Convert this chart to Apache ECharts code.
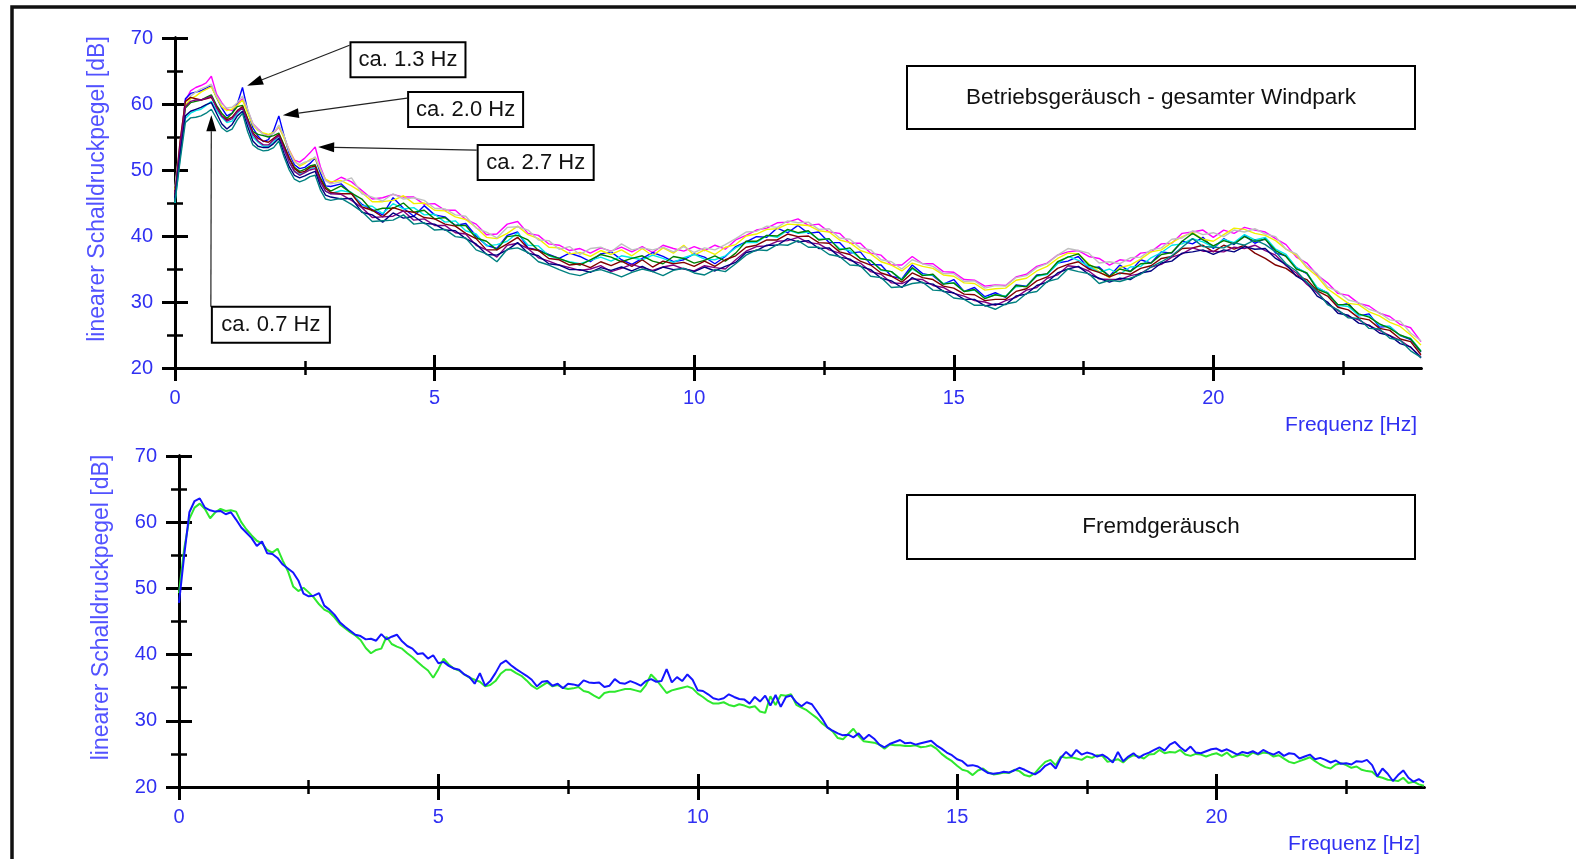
<!DOCTYPE html>
<html>
<head>
<meta charset="utf-8">
<title>Schalldruckpegel-Spektren Windpark</title>
<script src="https://cdn.jsdelivr.net/npm/echarts@6/dist/echarts.min.js"></script>
<style>
  html, body { margin: 0; padding: 0; background: #ffffff; }
  #chart { width: 1576px; height: 859px; }
</style>
</head>
<body>
<div id="chart"></div>
<script>
// ---------- data ----------
// Frequency grid of the operating-noise spectra [Hz]
const freqTop = [
  0, 0.1, 0.2, 0.3, 0.4, 0.5, 0.6, 0.7, 0.8, 0.9, 1.0, 1.1, 1.2, 1.3, 1.4, 1.5, 1.6, 1.7, 1.8, 1.9,
  2.0, 2.1, 2.2, 2.3, 2.4, 2.5, 2.6, 2.7, 2.8, 2.9, 3.0,
  3.2, 3.4, 3.6, 3.8, 4.0, 4.2, 4.4, 4.6, 4.8, 5.0,
  5.2, 5.4, 5.6, 5.8, 6.0, 6.2, 6.4, 6.6, 6.8, 7.0,
  7.2, 7.4, 7.6, 7.8, 8.0, 8.2, 8.4, 8.6, 8.8, 9.0,
  9.2, 9.4, 9.6, 9.8, 10.0, 10.2, 10.4, 10.6, 10.8, 11.0,
  11.2, 11.4, 11.6, 11.8, 12.0, 12.2, 12.4, 12.6, 12.8, 13.0,
  13.2, 13.4, 13.6, 13.8, 14.0, 14.2, 14.4, 14.6, 14.8, 15.0,
  15.2, 15.4, 15.6, 15.8, 16.0, 16.2, 16.4, 16.6, 16.8, 17.0,
  17.2, 17.4, 17.6, 17.8, 18.0, 18.2, 18.4, 18.6, 18.8, 19.0,
  19.2, 19.4, 19.6, 19.8, 20.0, 20.2, 20.4, 20.6, 20.8, 21.0,
  21.2, 21.4, 21.6, 21.8, 22.0, 22.2, 22.4, 22.6, 22.8, 23.0,
  23.2, 23.4, 23.6, 23.8, 24.0
];

// Operating noise, whole wind farm: one spectrum per measurement interval [dB]
const levelRun1 = [
  46.5, 54, 60.5, 62, 62.5, 62.8, 63.2, 64.2, 61.5, 60.2, 59.2, 59, 60, 60.8, 59, 57, 56.2, 55.5, 55.3, 55.6,
  56.5, 55, 53, 51.5, 51.2, 51.8, 52.6, 53.5, 50.5, 48.5, 48,
  48.9, 48.2, 46.9, 45.6, 45.8, 46.3, 45.9, 45.9, 44.8, 44.9,
  43.9, 43.9, 42.5, 41.8, 40.2, 40.3, 41.8, 42.2, 40.4, 40.1,
  38.8, 38.6, 37.8, 38.1, 37.4, 38.2, 37.7, 38.3, 37.6, 38.4,
  37.5, 38.6, 38.1, 37.7, 38.4, 37.8, 38.6, 38.0, 39.4, 40.1,
  40.9, 41.2, 42.0, 42.1, 42.6, 41.6, 41.8, 40.6, 40.4, 38.9,
  38.9, 37.4, 37.1, 35.6, 35.6, 36.9, 35.8, 35.8, 34.6, 34.5,
  33.4, 33.3, 32.4, 32.6, 32.5, 33.8, 34.2, 35.4, 35.9, 37.1,
  37.6, 37.8, 36.9, 36.6, 35.6, 36.4, 36.2, 37.4, 37.6, 38.8,
  38.9, 40.4, 40.6, 40.9, 39.8, 40.9, 40.4, 41.3, 40.9, 40.6,
  39.6, 38.7, 36.8, 35.9, 34.1, 32.9, 31.3, 31.0, 29.8, 29.4,
  28.3, 27.8, 26.6, 26.1, 24.0
];
const levelRun2 = [
  45.5, 53, 60.8, 61.6, 61.8, 62, 62.4, 62.8, 61, 59.4, 58.2, 58.6, 60, 62.5, 59, 56.4, 55.1, 54.3, 54.6, 56,
  58.2, 55.2, 52.5, 50.8, 50.2, 50.4, 51, 51.8, 49.6, 47.6, 47.5,
  47.9, 46.4, 44.8, 44.0, 43.2, 45.8, 44.2, 43.0, 44.6, 43.2,
  42.9, 41.6, 41.9, 40.0, 38.6, 38.1, 40.1, 40.6, 38.2, 37.9,
  37.2, 36.6, 37.4, 36.9, 36.1, 37.3, 37.6, 36.4, 35.7, 36.6,
  37.5, 36.9, 36.1, 36.4, 37.3, 36.8, 35.8, 36.9, 38.4, 39.1,
  39.9, 39.8, 41.2, 40.5, 41.6, 40.4, 40.6, 39.0, 39.0, 37.4,
  37.6, 35.7, 35.6, 33.9, 33.5, 35.6, 34.3, 34.0, 32.7, 33.4,
  31.6, 32.2, 30.8, 31.4, 30.7, 32.6, 32.4, 34.1, 34.2, 35.9,
  36.2, 36.9, 35.1, 35.3, 33.9, 35.6, 34.6, 36.4, 35.9, 37.6,
  37.4, 39.2, 38.8, 39.8, 38.1, 39.6, 38.7, 40.1, 38.9, 39.6,
  37.4, 37.0, 35.2, 34.3, 32.1, 31.4, 29.4, 29.8, 27.9, 28.2,
  26.2, 26.3, 24.9, 24.3, 22.4
];
const levelRun3 = [
  47, 54, 59.8, 60.8, 61.2, 61.8, 62.2, 62.6, 61, 59.6, 59, 59.2, 59.8, 60.6, 58.6, 56.8, 56, 55.6, 55.4, 55.7,
  56.6, 54.8, 53, 51.4, 50.6, 51, 51.6, 51.8, 50, 48.6, 48.2,
  48.4, 47.6, 46.6, 45.2, 45.2, 45.4, 46.1, 44.9, 45.0, 43.9,
  43.8, 42.9, 42.5, 41.3, 39.8, 39.6, 40.4, 41.5, 40.2, 39.6,
  38.3, 38.2, 37.3, 37.5, 36.9, 37.8, 37.2, 37.9, 37.0, 38.1,
  37.0, 38.2, 37.4, 38.6, 37.1, 37.9, 37.2, 38.3, 38.7, 40.0,
  40.3, 41.0, 41.1, 41.8, 41.7, 41.6, 40.8, 40.6, 39.4, 39.0,
  37.8, 37.3, 36.1, 35.6, 34.7, 35.9, 35.4, 35.1, 34.1, 33.9,
  32.9, 32.8, 31.8, 32.0, 32.1, 33.3, 33.6, 34.7, 35.4, 36.6,
  37.4, 37.3, 35.8, 34.6, 33.7, 35.2, 35.6, 36.5, 37.6, 37.9,
  39.0, 39.9, 40.5, 39.5, 39.2, 40.2, 41.2, 41.0, 40.4, 40.1,
  39.3, 38.0, 37.1, 35.2, 33.9, 32.0, 30.9, 29.8, 29.6, 28.5,
  27.9, 26.9, 26.3, 25.0, 23.5
];
const levelRun4 = [
  47.5, 54.5, 60.2, 61.2, 61.8, 62.3, 62.6, 63.0, 61.2, 60, 59.4, 59.5, 60.2, 61.2, 59.2, 57, 56.1, 55.4, 55.1, 55.6,
  56.8, 55.2, 52.8, 51.2, 50.8, 51.2, 51.4, 52, 50.2, 48.4, 47.9,
  48.2, 48.8, 46.4, 45.9, 45.3, 46.4, 45.6, 45.8, 45.4, 44.2,
  44.1, 43.2, 43.0, 41.2, 40.6, 39.7, 41.3, 41.4, 40.9, 39.4,
  39.3, 38.0, 38.4, 37.2, 38.1, 38.3, 37.6, 38.8, 37.9, 38.2,
  37.9, 38.3, 37.6, 38.4, 37.5, 38.2, 37.9, 38.7, 39.6, 40.6,
  40.7, 41.5, 41.3, 42.3, 42.0, 42.1, 41.0, 41.1, 39.7, 39.5,
  38.2, 37.9, 36.4, 36.1, 35.0, 36.4, 35.8, 35.4, 34.3, 34.3,
  33.1, 33.2, 32.1, 32.5, 32.4, 33.7, 34.0, 35.2, 35.8, 37.1,
  38.1, 37.8, 37.4, 35.9, 36.1, 35.8, 36.7, 36.8, 37.9, 38.2,
  39.5, 39.7, 40.8, 40.2, 40.5, 39.9, 40.9, 40.6, 41.1, 40.3,
  39.9, 38.0, 37.3, 35.4, 34.3, 32.3, 31.6, 30.3, 29.9, 28.9,
  28.4, 27.3, 27.1, 25.3, 24.1
];
const levelRun5 = [
  45, 52, 57.8, 58.6, 59, 59.2, 59.8, 60.4, 59, 58, 57.2, 57.4, 58.6, 59.4, 57.2, 55, 54.2, 53.6, 53.6, 54.2,
  55.2, 53.2, 51.2, 49.8, 49.4, 49.6, 50.2, 50.4, 48.2, 46.8, 46.4,
  46.9, 46.6, 44.6, 44.5, 43.4, 44.9, 44.1, 44.3, 43.2, 43.3,
  42.1, 42.3, 40.8, 40.3, 38.5, 38.7, 39.2, 40.5, 38.6, 38.5,
  37.0, 36.5, 36.1, 35.8, 36.3, 36.8, 36.2, 37.0, 36.7, 36.4,
  37.1, 36.6, 36.0, 36.7, 37.2, 36.5, 36.4, 37.0, 38.2, 39.0,
  39.0, 40.1, 39.8, 40.9, 40.4, 40.6, 39.5, 39.5, 38.1, 37.8,
  36.6, 36.3, 34.8, 34.6, 33.4, 35.0, 34.1, 34.1, 32.8, 32.9,
  31.6, 31.8, 30.6, 31.1, 30.9, 32.3, 32.4, 33.9, 34.2, 35.8,
  36.9, 36.3, 35.4, 34.5, 35.0, 34.2, 35.3, 35.4, 36.7, 37.5,
  38.6, 38.8, 39.6, 39.1, 38.3, 39.5, 39.0, 40.2, 39.4, 39.8,
  38.0, 37.2, 35.2, 34.4, 32.2, 31.4, 29.5, 29.3, 28.0, 27.9,
  26.5, 26.3, 24.9, 24.5, 22.6
];
const levelRun6 = [
  46, 53.4, 59.4, 60.2, 60.4, 60.6, 61, 61.4, 59.8, 58.6, 57.8, 58.6, 59.6, 59.8, 57.8, 55.8, 55.4, 55.2, 55.0, 55.2,
  55.6, 53.8, 51.8, 50.4, 49.8, 50.1, 50.6, 50.8, 48.8, 47.4, 46.8,
  47.6, 46.5, 45.6, 43.8, 44.2, 44.2, 45.0, 43.6, 43.9, 42.6,
  42.8, 41.6, 41.6, 39.7, 39.2, 37.9, 39.9, 40.1, 39.4, 37.8,
  37.1, 36.6, 36.0, 35.6, 36.4, 37.2, 36.8, 36.1, 36.6, 37.0,
  36.2, 35.8, 36.9, 36.6, 35.9, 36.3, 37.0, 36.2, 37.4, 39.2,
  39.2, 40.1, 40.0, 41.0, 40.5, 40.8, 39.4, 39.6, 37.9, 38.2,
  36.6, 36.3, 34.9, 34.6, 33.3, 35.2, 34.0, 34.2, 32.7, 32.9,
  31.6, 31.9, 30.5, 31.1, 30.8, 32.5, 32.3, 34.0, 34.3, 36.1,
  36.8, 37.3, 35.6, 35.1, 33.9, 35.0, 34.6, 35.8, 35.9, 37.2,
  37.5, 39.2, 40.4, 39.4, 38.5, 39.3, 38.8, 39.9, 39.2, 39.5,
  37.8, 36.9, 35.0, 34.4, 31.9, 31.3, 29.6, 29.6, 28.2, 27.7,
  26.7, 26.0, 25.0, 24.4, 22.5
];
const levelRun7 = [
  46.2, 54.5, 60.4, 61, 60.8, 60.6, 60.8, 61.0, 59.6, 58.2, 57.6, 58.0, 59.0, 59.6, 57.6, 55.6, 54.8, 54.4, 54.2, 54.8,
  55.4, 53.6, 51.8, 50.2, 49.6, 49.8, 50.4, 50.6, 48.6, 47.2, 46.6,
  46.4, 46.4, 44.4, 43.9, 42.9, 44.3, 43.8, 43.6, 42.8, 42.6,
  41.8, 41.5, 40.4, 39.6, 37.9, 37.9, 38.8, 39.8, 38.1, 37.8,
  36.6, 36.4, 35.6, 35.8, 35.2, 36.1, 35.5, 36.2, 35.4, 36.4,
  35.3, 36.2, 35.8, 36.0, 35.4, 36.2, 35.4, 36.4, 37.0, 38.3,
  38.6, 39.4, 39.4, 40.3, 39.9, 40.0, 39.0, 38.9, 37.6, 37.2,
  36.2, 35.6, 34.4, 33.9, 33.0, 34.4, 33.7, 33.4, 32.4, 32.1,
  31.2, 31.1, 30.2, 30.4, 30.4, 31.6, 32.0, 33.2, 33.8, 35.1,
  35.7, 36.1, 35.0, 34.5, 33.8, 34.4, 34.2, 35.1, 35.5, 36.6,
  36.9, 38.1, 38.2, 38.6, 37.6, 38.6, 38.0, 38.6, 37.4, 36.6,
  35.6, 35.1, 34.0, 33.4, 31.7, 30.9, 29.2, 28.8, 27.6, 27.3,
  26.0, 25.7, 24.4, 24.0, 22.0
];
const levelRun8 = [
  46, 53.8, 59.6, 60.4, 60.6, 60.6, 60.9, 61.2, 59.4, 58.2, 57.4, 57.8, 58.8, 59.4, 57.4, 55.4, 54.4, 53.8, 53.8, 54.6,
  55.2, 53.2, 51.2, 49.8, 49.2, 49.6, 50.0, 50.2, 48.2, 46.8, 46.4,
  46.3, 45.4, 44.3, 42.8, 42.9, 43.0, 43.8, 42.4, 42.6, 41.6,
  41.6, 40.5, 40.3, 38.6, 37.9, 36.8, 38.6, 38.9, 38.1, 36.7,
  36.2, 35.6, 35.2, 34.8, 35.0, 35.5, 34.6, 35.1, 35.7, 35.2,
  34.8, 35.3, 35.6, 35.0, 34.7, 35.5, 35.2, 35.0, 36.4, 37.7,
  38.4, 38.5, 39.2, 39.3, 39.8, 39.0, 38.8, 37.9, 37.4, 36.3,
  35.9, 34.6, 34.2, 32.9, 32.8, 33.5, 33.4, 32.5, 32.2, 31.3,
  30.9, 30.2, 30.0, 29.5, 30.2, 30.7, 31.8, 32.2, 33.6, 34.1,
  35.5, 35.3, 34.7, 33.5, 33.4, 33.4, 34.0, 34.3, 35.3, 35.7,
  36.8, 37.3, 38.2, 37.7, 37.7, 37.6, 38.3, 38.1, 38.6, 37.8,
  37.1, 35.5, 34.4, 32.7, 31.4, 29.8, 28.7, 27.8, 27.3, 26.4,
  25.7, 24.9, 24.2, 23.1, 21.7
];
const levelRun9 = [
  45.8, 52.4, 58.2, 58.9, 59.2, 59.5, 59.9, 60.2, 58.6, 57.0, 56.2, 56.9, 58.2, 58.9, 56.6, 54.4, 53.6, 53.4, 53.4, 54.0,
  54.8, 52.5, 50.5, 49.2, 48.8, 49.1, 49.5, 49.8, 47.6, 46.2, 45.9,
  45.6, 45.7, 43.6, 43.2, 42.1, 43.5, 42.7, 43.0, 41.9, 41.8,
  40.9, 40.8, 39.6, 38.8, 37.2, 37.1, 37.9, 39.0, 37.4, 37.0,
  35.8, 35.6, 34.9, 34.9, 34.5, 35.2, 34.8, 35.3, 34.7, 35.4,
  34.6, 35.3, 34.9, 35.1, 34.6, 35.3, 34.7, 35.4, 36.0, 37.5,
  37.8, 38.6, 38.6, 39.6, 39.1, 39.3, 38.1, 38.2, 36.8, 36.5,
  35.4, 34.9, 33.6, 33.2, 32.2, 33.7, 32.9, 32.7, 31.6, 31.4,
  30.4, 30.4, 29.4, 29.7, 29.6, 30.9, 31.2, 32.5, 33.0, 34.4,
  35.0, 35.4, 34.2, 33.6, 33.0, 33.6, 33.4, 34.4, 34.7, 35.9,
  36.2, 37.4, 37.6, 37.9, 37.2, 37.9, 37.6, 38.4, 38.0, 38.1,
  36.6, 35.7, 33.9, 33.0, 30.9, 30.0, 28.3, 28.0, 26.8, 26.5,
  25.3, 24.9, 23.7, 23.2, 21.5
];
const levelRun10 = [
  45.2, 51.5, 57.2, 57.9, 58.0, 58.2, 58.6, 59.2, 57.8, 56.4, 55.8, 56.2, 57.6, 58.6, 55.8, 53.8, 53.2, 52.9, 53.0, 53.4,
  54.4, 52.0, 50.0, 48.6, 48.2, 48.5, 49.0, 49.2, 47.0, 45.6, 45.4,
  45.7, 44.8, 43.7, 42.2, 42.3, 42.4, 43.2, 41.8, 42.0, 40.9,
  41.0, 39.9, 39.7, 37.9, 37.3, 36.1, 38.0, 38.2, 37.5, 36.1,
  35.6, 34.9, 34.3, 34.0, 34.6, 34.9, 34.4, 33.8, 34.5, 35.0,
  34.6, 34.0, 34.8, 35.1, 34.4, 34.1, 34.9, 34.6, 35.8, 37.1,
  37.9, 37.8, 38.7, 38.6, 39.3, 38.3, 38.3, 37.2, 36.9, 35.6,
  35.5, 33.9, 33.7, 32.2, 32.3, 32.8, 33.0, 31.8, 31.7, 30.6,
  30.4, 29.5, 29.5, 28.9, 29.7, 30.0, 31.3, 31.6, 33.1, 33.5,
  35.0, 34.6, 34.3, 32.8, 33.3, 33.1, 33.6, 34.2, 35.3, 36.1,
  37.0, 38.3, 39.6, 38.4, 38.3, 38.2, 39.0, 38.6, 39.4, 38.7,
  37.6, 35.8, 34.7, 33.0, 31.6, 29.6, 28.8, 27.6, 27.5, 26.0,
  25.9, 24.5, 24.2, 22.6, 21.6
];
const topLevels = [levelRun1, levelRun2, levelRun3, levelRun4, levelRun5,
                   levelRun6, levelRun7, levelRun8, levelRun9, levelRun10];
const topNames = ['Messung 1', 'Messung 2', 'Messung 3', 'Messung 4', 'Messung 5',
                  'Messung 6', 'Messung 7', 'Messung 8', 'Messung 9', 'Messung 10'];

// Frequency grid of the background-noise spectra [Hz]
const freqBottom = [
  0, 0.1, 0.2, 0.3, 0.4, 0.5, 0.6, 0.7, 0.8, 0.9,
  1.0, 1.1, 1.2, 1.3, 1.4, 1.5, 1.6, 1.7, 1.8, 1.9,
  2.0, 2.1, 2.2, 2.3, 2.4, 2.5, 2.6, 2.7, 2.8, 2.9,
  3.0, 3.1, 3.2, 3.3, 3.4, 3.5, 3.6, 3.7, 3.8, 3.9,
  4.0, 4.1, 4.2, 4.3, 4.4, 4.5, 4.6, 4.7, 4.8, 4.9,
  5.0, 5.1, 5.2, 5.3, 5.4, 5.5, 5.6, 5.7, 5.8, 5.9,
  6.0, 6.1, 6.2, 6.3, 6.4, 6.5, 6.6, 6.7, 6.8, 6.9,
  7.0, 7.1, 7.2, 7.3, 7.4, 7.5, 7.6, 7.7, 7.8, 7.9,
  8.0, 8.1, 8.2, 8.3, 8.4, 8.5, 8.6, 8.7, 8.8, 8.9,
  9.0, 9.1, 9.2, 9.3, 9.4, 9.5, 9.6, 9.7, 9.8, 9.9,
  10.0, 10.1, 10.2, 10.3, 10.4, 10.5, 10.6, 10.7, 10.8, 10.9,
  11.0, 11.1, 11.2, 11.3, 11.4, 11.5, 11.6, 11.7, 11.8, 11.9,
  12.0, 12.1, 12.2, 12.3, 12.4, 12.5, 12.6, 12.7, 12.8, 12.9,
  13.0, 13.1, 13.2, 13.3, 13.4, 13.5, 13.6, 13.7, 13.8, 13.9,
  14.0, 14.1, 14.2, 14.3, 14.4, 14.5, 14.6, 14.7, 14.8, 14.9,
  15.0, 15.1, 15.2, 15.3, 15.4, 15.5, 15.6, 15.7, 15.8, 15.9,
  16.0, 16.1, 16.2, 16.3, 16.4, 16.5, 16.6, 16.7, 16.8, 16.9,
  17.0, 17.1, 17.2, 17.3, 17.4, 17.5, 17.6, 17.7, 17.8, 17.9,
  18.0, 18.1, 18.2, 18.3, 18.4, 18.5, 18.6, 18.7, 18.8, 18.9,
  19.0, 19.1, 19.2, 19.3, 19.4, 19.5, 19.6, 19.7, 19.8, 19.9,
  20.0, 20.1, 20.2, 20.3, 20.4, 20.5, 20.6, 20.7, 20.8, 20.9,
  21.0, 21.1, 21.2, 21.3, 21.4, 21.5, 21.6, 21.7, 21.8, 21.9,
  22.0, 22.1, 22.2, 22.3, 22.4, 22.5, 22.6, 22.7, 22.8, 22.9,
  23.0, 23.1, 23.2, 23.3, 23.4, 23.5, 23.6, 23.7, 23.8, 23.9,
  24.0
];
// Background noise: two spectra [dB]
const levelBackgroundA = [
  49.3, 56, 60.5, 62.2, 62.8, 62.0, 60.6, 61.5, 62.0, 61.7,
  61.8, 61.6, 60.0, 58.9, 58.0, 57.2, 56.8, 55.8, 55.4, 56.0,
  54.2, 52.6, 50.3, 49.6, 50.1, 49.4, 48.6, 47.6, 46.8, 46.4,
  45.6, 44.6, 44.0, 43.4, 42.9, 42.2, 41.0, 40.2, 40.7, 40.9,
  42.7, 41.6, 41.2, 40.9, 40.2, 39.6, 38.9, 38.2, 37.6, 36.5,
  37.8, 39.4, 38.5, 37.9, 37.6, 37.0, 36.5, 36.2, 35.9, 35.2,
  35.4, 36.0, 37.1, 37.7, 37.7, 37.2, 36.8, 36.1, 35.3, 34.8,
  35.3, 35.8, 35.2, 35.4, 35.0, 34.8, 34.9, 35.1, 34.5, 34.3,
  33.8, 33.4, 34.2, 34.4, 34.4, 34.6, 34.8, 34.8, 34.6, 34.4,
  35.4, 37.0, 36.2, 35.2, 34.2, 34.6, 34.8, 35.0, 35.2, 34.9,
  34.1, 33.6, 33.0, 32.6, 32.6, 32.8, 32.4, 32.2, 32.5, 32.3,
  32.0, 32.2, 31.4, 31.2, 33.7, 32.4, 33.9, 33.8, 34.0, 32.4,
  32.0, 31.6, 31.0, 30.4, 29.6, 29.0, 28.4, 27.4, 27.2, 28.0,
  28.8, 27.7, 26.9, 26.8, 26.7, 26.4, 25.8, 26.4, 26.3, 26.3,
  26.2, 26.2, 26.3, 26.0, 26.1, 26.3, 25.8, 25.0, 24.4, 23.9,
  23.2, 22.6, 22.4, 21.8, 22.5, 22.8, 22.2, 21.9, 22.0, 22.2,
  22.1, 22.6, 22.4, 21.8, 21.6, 22.1, 23.0, 23.8, 24.1, 23.3,
  24.6, 24.4, 24.5, 24.3, 24.1, 24.6, 24.4, 24.8, 24.7, 23.8,
  24.0, 24.2, 23.7, 24.4, 24.8, 24.6, 24.3, 24.9, 25.0, 25.6,
  25.1, 25.3, 25.2, 25.6, 24.9, 24.7, 25.0, 24.9, 24.6, 24.9,
  25.1, 24.7, 25.2, 24.5, 24.8, 24.9, 24.6, 25.2, 24.9, 25.2,
  25.1, 24.6, 24.8, 24.3, 23.8, 23.6, 23.9, 24.2, 24.5, 23.9,
  23.4, 23.0, 22.8, 23.4, 23.6, 23.3, 22.9, 23.1, 22.6, 22.4,
  22.3, 21.6, 21.4, 21.1, 21.0, 20.9, 21.4, 20.6, 20.8, 20.4,
  20.2
];
const levelBackgroundB = [
  47.8, 55, 61.5, 63.2, 63.6, 62.2, 61.8, 61.6, 61.7, 61.2,
  61.5, 60.4, 59.2, 58.4, 57.6, 56.4, 57.1, 55.3, 55.2, 54.6,
  53.6, 53.0, 52.4, 51.2, 49.2, 48.8, 48.9, 49.3, 47.4, 46.8,
  46.0, 44.9, 44.2, 43.6, 43.0, 42.8, 42.3, 42.4, 42.1, 43.1,
  42.3, 42.7, 43.0, 42.0, 41.3, 40.9, 40.1, 40.2, 39.4, 39.9,
  38.7, 38.9, 38.3, 37.9, 37.7, 37.0, 36.6, 35.6, 37.2, 35.3,
  36.0, 37.2, 38.6, 39.1, 38.4, 37.8, 37.3, 36.8, 36.2, 35.2,
  35.9, 36.0, 35.3, 35.6, 34.9, 35.6, 35.5, 35.3, 36.1, 35.8,
  35.7, 35.8, 35.1, 35.3, 36.3, 35.7, 35.6, 36.0, 35.7, 35.3,
  36.0, 36.3, 35.9, 36.0, 37.8, 35.8, 36.6, 36.0, 37.0, 36.2,
  34.6, 34.5, 34.0, 33.4, 33.2, 33.4, 34.0, 33.6, 33.3, 33.2,
  32.6, 33.6, 32.9, 33.8, 32.3, 33.9, 32.1, 33.6, 33.8, 32.8,
  32.2, 32.8, 32.5, 31.4, 30.3, 29.0, 28.5, 28.1, 27.8, 27.9,
  27.5, 28.1, 27.2, 27.9, 27.3, 26.4, 26.0, 26.5, 26.8, 27.1,
  26.6, 26.7, 26.4, 26.6, 26.8, 27.0, 26.3, 25.8, 25.2, 24.8,
  24.2, 23.9, 23.2, 23.3, 23.1, 22.6, 22.1, 22.0, 22.1, 22.3,
  22.2, 22.5, 22.9, 22.6, 22.2, 21.9, 22.4, 23.2, 23.6, 22.8,
  24.4, 25.3, 24.6, 25.6, 24.9, 25.2, 25.0, 24.6, 24.9, 24.4,
  23.7, 25.3, 23.9, 24.6, 25.1, 24.4, 24.9, 25.2, 25.6, 26.0,
  25.5, 26.4, 26.8, 26.0, 25.4, 26.1, 25.2, 25.1, 25.4, 25.7,
  25.8, 25.4, 25.7, 25.3, 24.9, 25.3, 25.1, 25.4, 25.0, 25.6,
  25.2, 24.9, 25.3, 24.7, 25.1, 25.0, 24.3, 24.6, 24.9, 24.2,
  24.4, 24.1, 23.7, 24.0, 23.5, 23.6, 23.4, 23.9, 23.8, 24.1,
  23.3, 21.6, 22.8, 22.0, 20.9, 21.8, 22.5, 21.4, 20.8, 21.2,
  20.7
];
const bottomNames = ['Fremdgeräusch 1', 'Fremdgeräusch 2'];

// Axis ticks
const xMajorTicks = [0, 5, 10, 15, 20];
const xMinorTicks = [2.5, 7.5, 12.5, 17.5, 22.5];
const yMajorTicks = [20, 30, 40, 50, 60, 70];
const yMinorTicks = [25, 35, 45, 55, 65];

// Texts
const panelTitles = ['Betriebsgeräusch - gesamter Windpark', 'Fremdgeräusch'];
const peakLabels = ['ca. 1.3 Hz', 'ca. 2.0 Hz', 'ca. 2.7 Hz', 'ca. 0.7 Hz'];
const peakFreqs = [1.3, 2.0, 2.7, 0.7];

// ---------- styles & layout ----------
const FONT = "'Liberation Sans', Arial, Helvetica, sans-serif";
const LABEL_BLUE = '#3030f2';
const NAME_BLUE = '#5252ff';
const topColors = ['#ff00ff', '#0000ff', '#f2f200', '#c0c0c0', '#00e8e8',
                   '#008000', '#800000', '#800080', '#000080', '#008080'];
const bottomColors = ['#2ee82e', '#1414ff'];

const grids = [
  { left: 175, top: 38, width: 1246, height: 330 },
  { left: 179, top: 456, width: 1245, height: 331 }
];
// Annotation boxes: top-left corner in axis units, pixel size, arrow settings
const peakLayout = [
  { box: [3.38, 69.35], w: 115, h: 35, side: 'top', startDy: 3, gap: 5 },
  { box: [4.49, 61.8], w: 115, h: 35, side: 'top', startDy: 6, gap: 4 },
  { box: [5.83, 53.77], w: 116, h: 35, side: 'top', startDy: 5, gap: 3 },
  { box: [0.71, 29.27], w: 118, h: 36, side: 'bottom', startDy: 0, gap: 6 }
];
const titleBoxes = [
  { x: 907, y: 66, w: 508, h: 63 },
  { x: 907, y: 495, w: 508, h: 64 }
];

// ---------- axes ----------
function tickStyle(w) { return { color: '#000', width: w }; }

function xAxesFor(g) {
  const common = {
    type: 'value', gridIndex: g, min: 0, max: 24, position: 'bottom',
    axisLine: { show: true, onZero: false, lineStyle: { color: '#000', width: 3 } },
    splitLine: { show: false }, minorTick: { show: false }
  };
  return [
    Object.assign({}, common, {
      name: 'Frequenz [Hz]', nameLocation: 'end', nameGap: -4,
      nameTextStyle: { color: LABEL_BLUE, fontFamily: FONT, fontSize: 21,
                       align: 'right', verticalAlign: 'top', padding: [47, 0, 0, 0] },
      axisLabel: { show: true, customValues: xMajorTicks, margin: 20,
                   color: LABEL_BLUE, fontFamily: FONT, fontSize: 20 },
      axisTick: { show: true, customValues: xMajorTicks, length: 13, inside: false, lineStyle: tickStyle(3) }
    }),
    Object.assign({}, common, {
      axisLabel: { show: false },
      axisTick: { show: true, customValues: xMajorTicks, length: 13, inside: true, lineStyle: tickStyle(3) }
    }),
    Object.assign({}, common, {
      axisLabel: { show: false },
      axisTick: { show: true, customValues: xMinorTicks, length: 7, inside: false, lineStyle: tickStyle(2.5) }
    }),
    Object.assign({}, common, {
      axisLabel: { show: false },
      axisTick: { show: true, customValues: xMinorTicks, length: 7, inside: true, lineStyle: tickStyle(2.5) }
    })
  ];
}

function yAxesFor(g) {
  const common = {
    type: 'value', gridIndex: g, min: 20, max: 70, position: 'left',
    axisLine: { show: true, onZero: false, lineStyle: { color: '#000', width: 3 } },
    splitLine: { show: false }, minorTick: { show: false }
  };
  return [
    Object.assign({}, common, {
      name: 'linearer Schalldruckpegel [dB]', nameLocation: 'middle', nameRotate: 90, nameGap: 66,
      nameTextStyle: { color: NAME_BLUE, fontFamily: FONT, fontSize: 23, padding: [0, 0, 0, 28] },
      axisLabel: { show: true, customValues: yMajorTicks, margin: 22,
                   color: LABEL_BLUE, fontFamily: FONT, fontSize: 20 },
      axisTick: { show: true, customValues: yMajorTicks, length: 13, inside: false, lineStyle: tickStyle(3) }
    }),
    Object.assign({}, common, {
      axisLabel: { show: false },
      axisTick: { show: true, customValues: yMajorTicks, length: 13, inside: true, lineStyle: tickStyle(3) }
    }),
    Object.assign({}, common, {
      axisLabel: { show: false },
      axisTick: { show: true, customValues: yMinorTicks, length: 8, inside: false, lineStyle: tickStyle(2.5) }
    }),
    Object.assign({}, common, {
      axisLabel: { show: false },
      axisTick: { show: true, customValues: yMinorTicks, length: 8, inside: true, lineStyle: tickStyle(2.5) }
    })
  ];
}

function pairs(xs, ys) { return xs.map((x, i) => [x, ys[i]]); }

// ---------- series ----------
const series = [];
topLevels.forEach((levels, i) => {
  series.push({
    name: topNames[i], type: 'line', xAxisIndex: 0, yAxisIndex: 0,
    data: pairs(freqTop, levels), showSymbol: false, symbol: 'none', silent: true,
    lineStyle: { color: topColors[i], width: 1.4 }, z: 2
  });
});
[levelBackgroundA, levelBackgroundB].forEach((levels, i) => {
  series.push({
    name: bottomNames[i], type: 'line', xAxisIndex: 4, yAxisIndex: 4,
    data: pairs(freqBottom, levels), showSymbol: false, symbol: 'none', silent: true,
    lineStyle: { color: bottomColors[i], width: 2 }, z: 2
  });
});

const chart = echarts.init(document.getElementById('chart'), null, { renderer: 'canvas' });
chart.setOption({
  backgroundColor: '#ffffff',
  animation: false,
  tooltip: { show: false },
  grid: grids.map(g => Object.assign({ outerBoundsMode: 'none', containLabel: false }, g)),
  xAxis: xAxesFor(0).concat(xAxesFor(1)),
  yAxis: yAxesFor(0).concat(yAxesFor(1)),
  series: series
});

// ---------- frame, panel titles and peak annotations ----------
const graphics = [];
graphics.push({
  type: 'rect', silent: true, z: 0,
  shape: { x: 12, y: 7, width: 1700, height: 1000 },
  style: { fill: 'none', stroke: '#111', lineWidth: 3.5 }
});

titleBoxes.forEach((b, i) => {
  graphics.push({
    type: 'rect', silent: true, z: 10,
    shape: { x: b.x, y: b.y, width: b.w, height: b.h },
    style: { fill: '#fff', stroke: '#000', lineWidth: 2 }
  });
  graphics.push({
    type: 'text', silent: true, z: 11,
    x: b.x + b.w / 2, y: b.y + b.h / 2,
    style: { text: panelTitles[i], fill: '#111', fontFamily: FONT, fontSize: 22.5,
             align: 'center', verticalAlign: 'middle' }
  });
});

const toPx = v => chart.convertToPixel({ xAxisIndex: 0, yAxisIndex: 0 }, v);
peakFreqs.forEach((f, i) => {
  const L = peakLayout[i];
  const idx = freqTop.indexOf(f);
  const levelsAtPeak = topLevels.map(a => a[idx]);
  const level = L.side === 'top' ? Math.max.apply(null, levelsAtPeak) : Math.min.apply(null, levelsAtPeak);
  const peakPx = toPx([f, level]);
  const boxPx = toPx(L.box);
  const start = [boxPx[0] - 1, boxPx[1] + L.startDy];
  let dx = peakPx[0] - start[0], dy = peakPx[1] - start[1];
  const len = Math.hypot(dx, dy);
  dx /= len; dy /= len;
  const tip = [peakPx[0] - dx * L.gap, peakPx[1] - dy * L.gap];
  const headLen = 16, halfW = 5;
  const base = [tip[0] - dx * headLen, tip[1] - dy * headLen];
  const nx = -dy, ny = dx;
  graphics.push({
    type: 'line', silent: true, z: 12,
    shape: { x1: start[0], y1: start[1], x2: base[0], y2: base[1] },
    style: { stroke: '#222', lineWidth: 1.2 }
  });
  graphics.push({
    type: 'polygon', silent: true, z: 12,
    shape: { points: [tip, [base[0] + nx * halfW, base[1] + ny * halfW], [base[0] - nx * halfW, base[1] - ny * halfW]] },
    style: { fill: '#000' }
  });
  graphics.push({
    type: 'rect', silent: true, z: 12,
    shape: { x: boxPx[0], y: boxPx[1], width: L.w, height: L.h },
    style: { fill: '#fff', stroke: '#000', lineWidth: 2 }
  });
  graphics.push({
    type: 'text', silent: true, z: 13,
    x: boxPx[0] + L.w / 2, y: boxPx[1] + L.h / 2,
    style: { text: peakLabels[i], fill: '#111', fontFamily: FONT, fontSize: 22,
             align: 'center', verticalAlign: 'middle' }
  });
});

chart.setOption({ graphic: graphics });
</script>
</body>
</html>
